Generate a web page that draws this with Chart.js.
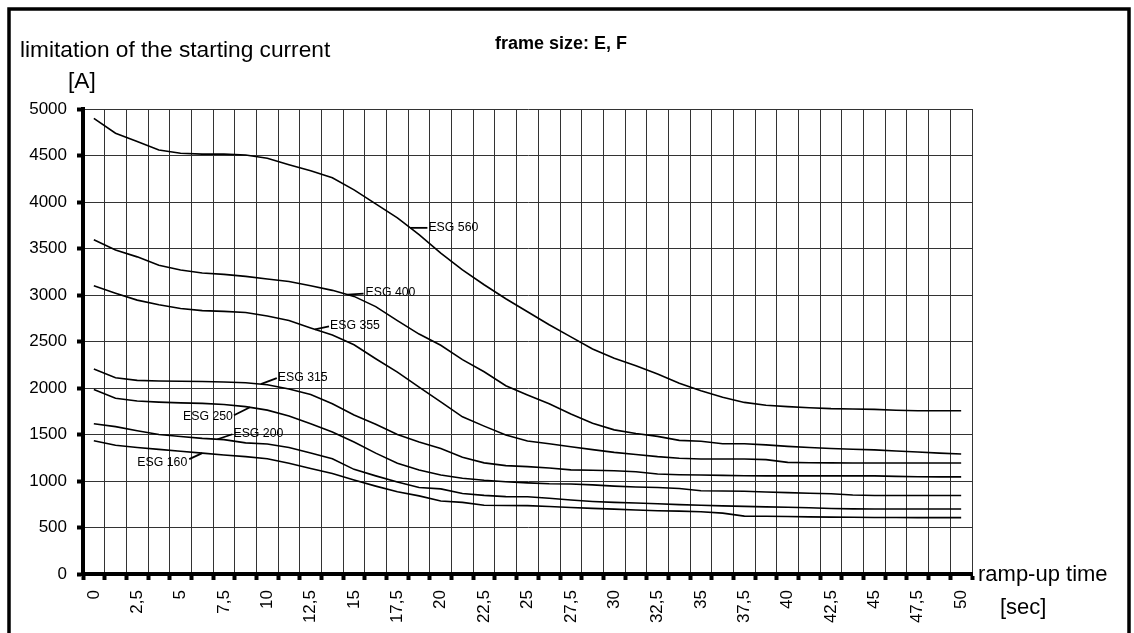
<!DOCTYPE html>
<html>
<head>
<meta charset="utf-8">
<script src="https://cdn.jsdelivr.net/npm/chart.js@4.4.0/dist/chart.umd.min.js"></script>
<style>
  html, body { margin: 0; padding: 0; background: #fff; }
  #wrap { position: relative; width: 1134px; height: 633px; }
</style>
</head>
<body>
<div id="wrap"><canvas id="c" width="1134" height="633"></canvas></div>
<script>
// ---- data (ramp-up time in seconds, starting current limit in A) ----
const times = [0, 1.25, 2.5, 3.75, 5, 6.25, 7.5, 8.75, 10, 11.25, 12.5, 13.75, 15, 16.25, 17.5, 18.75, 20, 21.25, 22.5, 23.75, 25, 26.25, 27.5, 28.75, 30, 31.25, 32.5, 33.75, 35, 36.25, 37.5, 38.75, 40, 41.25, 42.5, 43.75, 45, 46.25, 47.5, 48.75, 50];
const xTickLabels = ['0','','2,5','','5','','7,5','','10','','12,5','','15','','17,5','','20','','22,5','','25','','27,5','','30','','32,5','','35','','37,5','','40','','42,5','','45','','47,5','','50'];
const yTickLabels = ['0','500','1000','1500','2000','2500','3000','3500','4000','4500','5000'];

const esg560 = [4900, 4740, 4650, 4560, 4525, 4515, 4515, 4505, 4470, 4400, 4335, 4260, 4130, 3980, 3830, 3650, 3450, 3270, 3110, 2960, 2820, 2680, 2550, 2420, 2320, 2240, 2150, 2050, 1970, 1900, 1845, 1815, 1800, 1788, 1778, 1775, 1770, 1760, 1755, 1755, 1755];
const esg400 = [3595, 3485, 3410, 3320, 3268, 3237, 3222, 3200, 3172, 3145, 3100, 3050, 2985, 2875, 2725, 2580, 2460, 2305, 2175, 2025, 1925, 1830, 1720, 1620, 1550, 1510, 1480, 1437, 1428, 1401, 1401, 1388, 1372, 1360, 1350, 1342, 1335, 1323, 1312, 1300, 1290];
const esg355 = [3100, 3020, 2945, 2895, 2855, 2832, 2824, 2812, 2775, 2725, 2645, 2570, 2465, 2315, 2170, 2010, 1850, 1690, 1590, 1495, 1430, 1400, 1368, 1337, 1308, 1285, 1262, 1245, 1237, 1237, 1237, 1230, 1200, 1197, 1195, 1194, 1193, 1193, 1193, 1193, 1193];
const esg315 = [2205, 2110, 2082, 2076, 2073, 2070, 2065, 2057, 2035, 1990, 1930, 1830, 1710, 1610, 1500, 1420, 1350, 1255, 1195, 1165, 1155, 1140, 1120, 1115, 1110, 1100, 1075, 1068, 1064, 1060, 1057, 1055, 1055, 1055, 1055, 1055, 1055, 1050, 1045, 1044, 1044];
const esg250 = [1985, 1890, 1860, 1848, 1840, 1835, 1822, 1800, 1762, 1700, 1615, 1526, 1420, 1300, 1190, 1118, 1065, 1030, 1008, 992, 980, 970, 968, 958, 945, 935, 930, 920, 895, 893, 890, 882, 875, 868, 863, 850, 844, 844, 844, 844, 844];
const esg200 = [1615, 1585, 1540, 1500, 1478, 1458, 1445, 1410, 1398, 1360, 1300, 1240, 1125, 1055, 990, 930, 915, 865, 845, 832, 830, 815, 795, 780, 770, 763, 755, 746, 740, 733, 727, 722, 717, 712, 705, 700, 699, 699, 699, 699, 699];
const esg160 = [1432, 1385, 1360, 1340, 1320, 1300, 1280, 1262, 1240, 1190, 1135, 1080, 1010, 945, 885, 840, 785, 770, 740, 737, 735, 725, 715, 706, 698, 688, 680, 676, 670, 655, 622, 621, 618, 614, 612, 610, 608, 607, 606, 606, 606];

const seriesNames = ['ESG 560', 'ESG 400', 'ESG 355', 'ESG 315', 'ESG 250', 'ESG 200', 'ESG 160'];
const seriesValues = [esg560, esg400, esg355, esg315, esg250, esg200, esg160];

// label anchors: position along the time axis (category index) for each series
const labelAnchorIndex = [14.6, 11.7, 10.2, 7.7, 7.2, 5.7, 5.0];
// ---------------------------------------------------------------------

const FONT = '"Liberation Sans", Arial, Helvetica, sans-serif';

// leader offsets in pixels from the curve point: [dx, dy, textDx, textDy, align]
const labelStyle = [
  [17, 0, 18, 0, 'left'],
  [16, -1, 18, -2, 'left'],
  [14, -3, 15, -4, 'left'],
  [16, -6, 17, -7, 'left'],
  [-16, 8, -17, 9, 'right'],
  [15, -5, 16, -6, 'left'],
  [-13, 6, -15, 10, 'right']
];

const decorPlugin = {
  id: 'decor',
  afterDatasetsDraw(chart) {
    const ctx = chart.ctx;
    const xs = chart.scales.x, ys = chart.scales.y;
    ctx.save();
    ctx.strokeStyle = '#000';
    ctx.fillStyle = '#000';
    ctx.lineWidth = 1.8;
    ctx.font = '12.3px ' + FONT;
    ctx.textBaseline = 'middle';
    seriesValues.forEach((vals, i) => {
      const k = labelAnchorIndex[i];
      const i0 = Math.floor(k), f = k - i0;
      const v = vals[i0] + (vals[Math.min(i0 + 1, vals.length - 1)] - vals[i0]) * f;
      const px = xs.getPixelForValue(k);
      const py = ys.getPixelForValue(v);
      const st = labelStyle[i];
      ctx.beginPath();
      ctx.moveTo(px, py);
      ctx.lineTo(px + st[0], py + st[1]);
      ctx.stroke();
      ctx.textAlign = st[4];
      ctx.fillText(seriesNames[i], px + st[2], py + st[3]);
    });
    ctx.restore();
  },
  afterDraw(chart) {
    const ctx = chart.ctx;
    ctx.save();
    ctx.fillStyle = '#000';
    ctx.textBaseline = 'alphabetic';
    ctx.textAlign = 'left';
    ctx.font = '22.7px ' + FONT;
    ctx.fillText('limitation of the starting current', 20, 57);
    ctx.fillText('[A]', 68, 88);
    ctx.font = '22px ' + FONT;
    ctx.fillText('ramp-up time', 978, 581);
    ctx.fillText('[sec]', 1000, 614);
    ctx.font = 'bold 18px ' + FONT;
    ctx.fillText('frame size: E, F', 495, 49);
    ctx.strokeStyle = '#000';
    ctx.lineWidth = 3.5;
    ctx.strokeRect(9, 9, 1120, 700);
    ctx.restore();
  }
};

new Chart(document.getElementById('c').getContext('2d'), {
  type: 'line',
  data: {
    labels: times.map(String),
    datasets: seriesValues.map((vals, i) => ({
      label: seriesNames[i],
      data: vals,
      borderColor: '#000',
      borderWidth: 1.6,
      pointRadius: 0,
      fill: false,
      tension: 0
    }))
  },
  options: {
    responsive: false,
    animation: false,
    devicePixelRatio: 1,
    layout: { padding: { left: 8, right: 162, top: 109, bottom: 0 } },
    plugins: { legend: { display: false }, tooltip: { enabled: false }, title: { display: false } },
    scales: {
      x: {
        type: 'category',
        offset: true,
        grid: { offset: true, color: '#333', lineWidth: 1, tickColor: '#000', tickLength: 6, tickWidth: 4, drawTicks: true },
        border: { display: true, color: '#000', width: 4 },
        ticks: {
          autoSkip: false, maxRotation: 90, minRotation: 90, padding: 10, color: '#000',
          font: { family: FONT, size: 17 },
          callback: (v, i) => xTickLabels[i]
        },
        afterFit: s => { s.height = 59; }
      },
      y: {
        min: 0, max: 5000,
        grid: { color: '#333', lineWidth: 1, tickColor: '#000', tickLength: 6, tickWidth: 4, drawTicks: true },
        border: { display: true, color: '#000', width: 4 },
        ticks: {
          stepSize: 500, padding: 10, color: '#000',
          font: { family: FONT, size: 17 },
          callback: (v, i) => yTickLabels[i]
        },
        afterFit: s => { s.width = 75; }
      }
    }
  },
  plugins: [decorPlugin]
});
</script>
</body>
</html>
